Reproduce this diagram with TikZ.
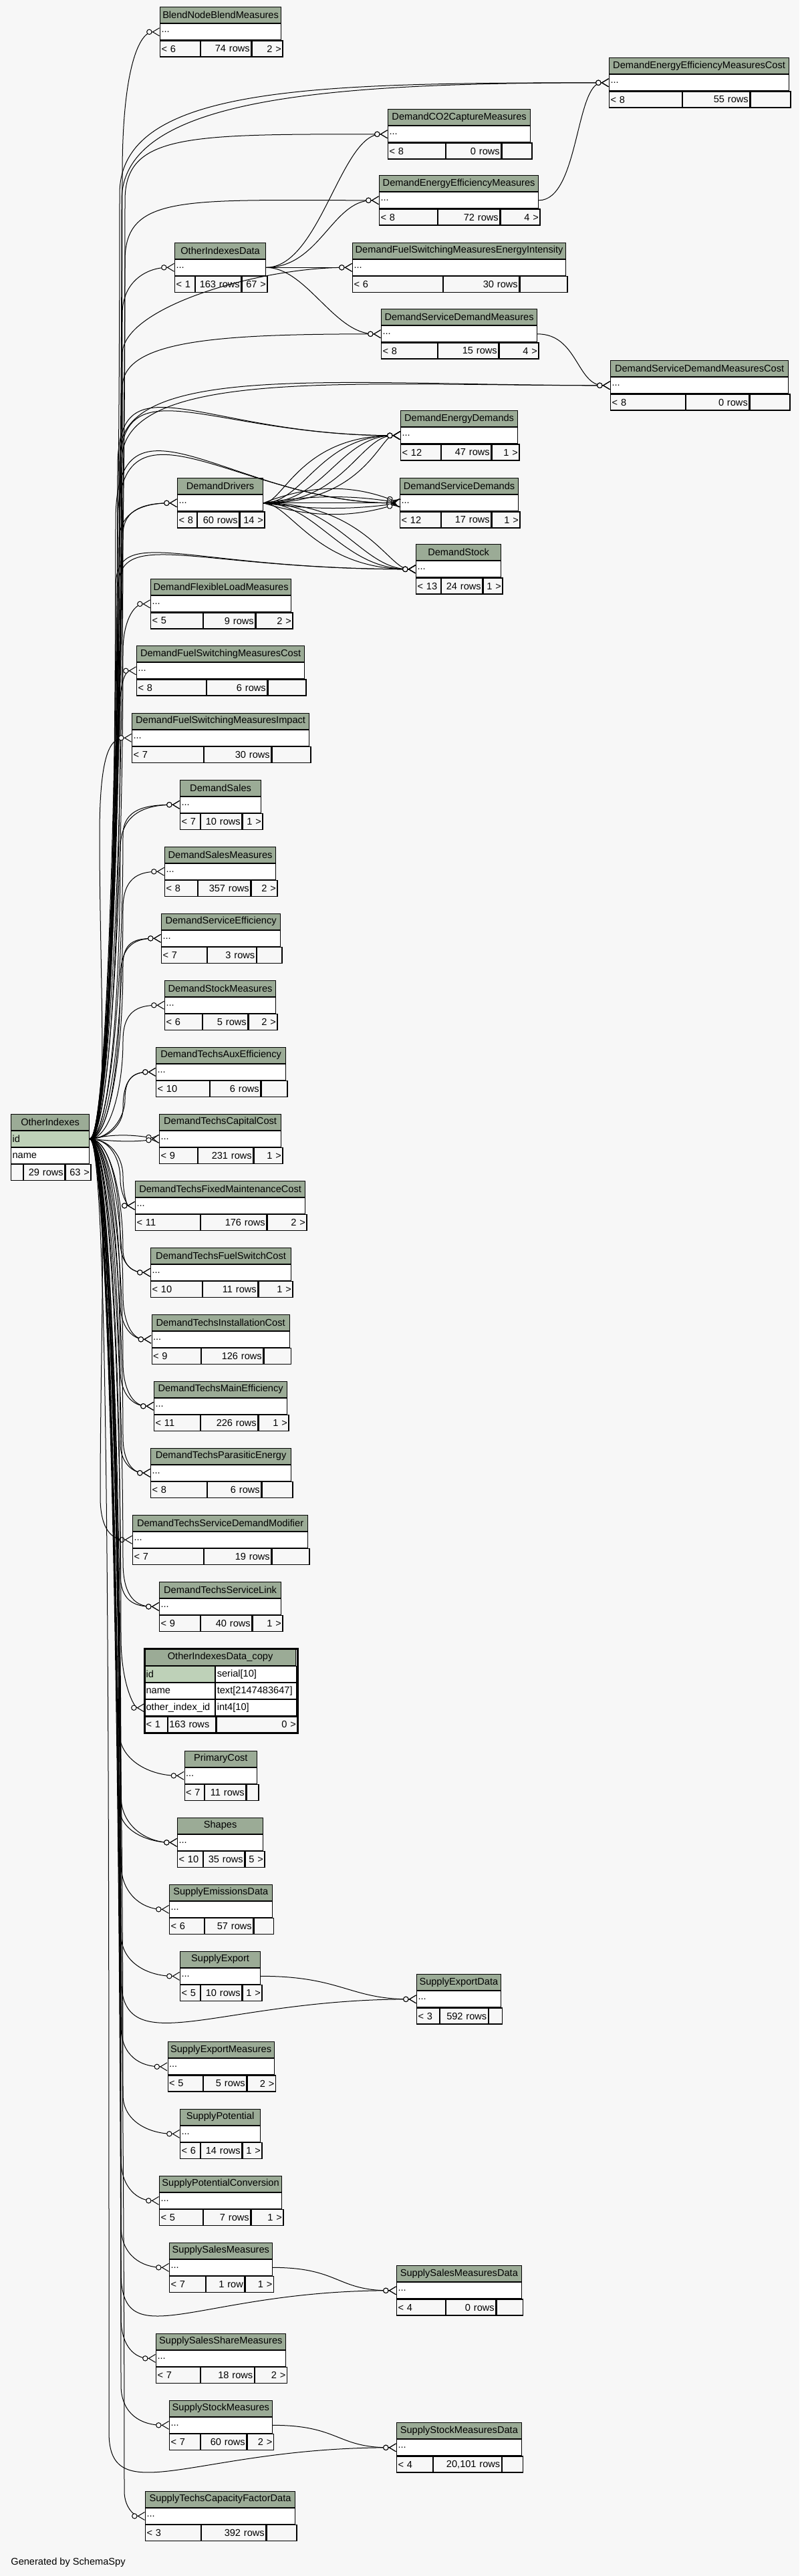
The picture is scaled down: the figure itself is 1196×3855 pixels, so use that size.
\documentclass[tikz,border=0pt]{standalone}
\usepackage{fontspec}
\setmainfont{Liberation Sans}
\usepackage{tikz}
\usetikzlibrary{arrows.meta}
\definecolor{headgreen}{HTML}{9BAB96}
\definecolor{keygreen}{HTML}{BED1B8}
\definecolor{pagebg}{HTML}{F7F7F7}
\tikzstyle{cell}=[draw, line width=.6pt, anchor=north west, inner xsep=1pt, inner ysep=0pt, minimum height=12pt, align=left, fill=pagebg]
\tikzstyle{thead}=[cell, fill=headgreen, align=center]
\tikzstyle{fk}=[line width=.5pt, -{Circle[fill=white,length=4.2pt] Straight Barb[reversed,length=5pt,width=6pt]}]
% table: name, x, y, width, divider 1, divider 2, left, middle, right (pixels)
\newcommand\tbl[9]{%
  \pgfmathsetmacro\tblw{(#4)*0.5-2}%
  \pgfmathsetmacro\tbla{(#5-#2)*0.5-2}%
  \pgfmathsetmacro\tblb{(#6-#5)*0.5-2}%
  \pgfmathsetmacro\tblc{(#2+#4-#6)*0.5-2}%
  \node[thead, text width=\tblw pt] (#1-h) at (#2,#3) {\mbox{#1}};
  \node[cell, fill=white, text width=\tblw pt] (#1) at (#1-h.south west) {...};
  \node[cell, text width=\tbla pt] (#1-l) at (#1.south west) {\mbox{#7}};
  \node[cell, text width=\tblb pt, align=right] (#1-m) at (#1-l.north east) {\mbox{#8}};
  \node[cell, text width=\tblc pt, align=right] (#1-r) at (#1-m.north east) {\mbox{#9}};
}
% edge from OtherIndexes.id: target, bundle x, leave y, approach dy, approach dx
\newcommand\oie[5]{%
  \pgfmathsetmacro\oid{(1702-#3)*0.5}%
  \draw[fk] (oi-id.east) .. controls +(30,0) and +(0,\oid) .. (#2,#3)
    .. controls +(0,#4) and +(-#5,0) .. (#1.west);
}
\begin{document}
\begin{tikzpicture}[x=.5pt, y=-.5pt, font=\fontsize{7.3pt}{8.5pt}\selectfont]
\fill[pagebg] (0,0) rectangle (1196,3855);
\useasboundingbox (0,0) rectangle (1196,3855);

\tbl{BlendNodeBlendMeasures}{239}{10}{181}{299}{374}{< 6}{74 rows}{2 >}
\tbl{DemandEnergyEfficiencyMeasuresCost}{911}{86}{269}{1020}{1120}{< 8}{55 rows}{}
\tbl{DemandCO2CaptureMeasures}{580}{163}{213}{666}{748}{< 8}{0 rows}{}
\tbl{DemandEnergyEfficiencyMeasures}{567}{262}{238}{654}{746}{< 8}{72 rows}{4 >}
\tbl{OtherIndexesData}{261}{362.5}{136}{291}{359}{< 1}{163 rows}{67 >}
\tbl{DemandFuelSwitchingMeasuresEnergyIntensity}{527}{362.5}{319}{662}{775}{< 6}{30 rows}{}
\tbl{DemandServiceDemandMeasures}{570}{462}{233}{654}{744}{< 8}{15 rows}{4 >}
\tbl{DemandServiceDemandMeasuresCost}{913}{539}{266}{1025}{1119}{< 8}{0 rows}{}
\tbl{DemandEnergyDemands}{599}{614}{175}{659}{733}{< 12}{47 rows}{1 >}
\tbl{DemandServiceDemands}{598}{715}{177}{659}{733}{< 12}{17 rows}{1 >}
\tbl{DemandDrivers}{265}{715}{128}{294}{356}{< 8}{60 rows}{14 >}
\tbl{DemandStock}{622}{814}{127}{659}{720}{< 13}{24 rows}{1 >}
\tbl{DemandFlexibleLoadMeasures}{225}{866}{210}{303}{380}{< 5}{9 rows}{2 >}
\tbl{DemandFuelSwitchingMeasuresCost}{204}{966}{251}{308}{398}{< 8}{6 rows}{}
\tbl{DemandFuelSwitchingMeasuresImpact}{197}{1066.5}{265}{304}{404}{< 7}{30 rows}{}
\tbl{DemandSales}{269}{1166.5}{121}{298.5}{360}{< 7}{10 rows}{1 >}
\tbl{DemandSalesMeasures}{246}{1266.5}{166}{295}{373}{< 8}{357 rows}{2 >}
\tbl{DemandServiceEfficiency}{241}{1366.5}{178}{309}{381.5}{< 7}{3 rows}{}
\tbl{DemandStockMeasures}{246}{1466.5}{166}{302}{369}{< 6}{5 rows}{2 >}
\tbl{DemandTechsAuxEfficiency}{233}{1566.5}{194}{313}{388}{< 10}{6 rows}{}
\tbl{DemandTechsCapitalCost}{238}{1666.5}{182}{295}{377}{< 9}{231 rows}{1 >}
\tbl{DemandTechsFixedMaintenanceCost}{202}{1766.5}{254}{298.5}{397}{< 11}{176 rows}{2 >}
\tbl{DemandTechsFuelSwitchCost}{225}{1866.5}{210}{302}{384}{< 10}{11 rows}{1 >}
\tbl{DemandTechsInstallationCost}{226.5}{1966.5}{206}{300}{392}{< 9}{126 rows}{}
\tbl{DemandTechsMainEfficiency}{230}{2066.5}{199}{298.5}{384}{< 11}{226 rows}{1 >}
\tbl{DemandTechsParasiticEnergy}{225}{2166.5}{210}{309}{389}{< 8}{6 rows}{}
\tbl{DemandTechsServiceDemandModifier}{198}{2266.5}{262}{304}{404}{< 7}{19 rows}{}
\tbl{DemandTechsServiceLink}{238}{2366.5}{182}{298.5}{375}{< 9}{40 rows}{1 >}
\tbl{PrimaryCost}{275.5}{2619.5}{108.5}{305}{366}{< 7}{11 rows}{}
\tbl{Shapes}{265}{2719.5}{128}{302.5}{364}{< 10}{35 rows}{5 >}
\tbl{SupplyEmissionsData}{253}{2819.5}{153.5}{305}{377}{< 6}{57 rows}{}
\tbl{SupplyExport}{269}{2919.5}{120}{298.5}{360}{< 5}{10 rows}{1 >}
\tbl{SupplyExportData}{623}{2954}{125.5}{657}{728.5}{< 3}{592 rows}{}
\tbl{SupplyExportMeasures}{250.5}{3055}{159}{302.5}{367}{< 5}{5 rows}{2 >}
\tbl{SupplyPotential}{269}{3155.5}{120}{298.5}{360}{< 6}{14 rows}{1 >}
\tbl{SupplyPotentialConversion}{238}{3255.5}{183}{302.5}{373}{< 5}{7 rows}{1 >}
\tbl{SupplySalesMeasures}{253}{3355.5}{153.5}{306.5}{364}{< 7}{1 row}{1 >}
\tbl{SupplySalesMeasuresData}{593}{3390}{186.5}{666}{740}{< 4}{0 rows}{}
\tbl{SupplySalesShareMeasures}{233}{3491.5}{193.5}{298.5}{378.5}{< 7}{18 rows}{2 >}
\tbl{SupplyStockMeasures}{253}{3591.5}{153.5}{298.5}{367}{< 7}{60 rows}{2 >}
\tbl{SupplyStockMeasuresData}{593}{3625}{186.5}{647}{748.5}{< 4}{20,101 rows}{}
\tbl{SupplyTechsCapacityFactorData}{217}{3727.5}{224}{300}{396}{< 3}{392 rows}{}

% OtherIndexes
\node[thead, text width=56.5pt] (oi-h) at (16,1666.5) {OtherIndexes};
\node[cell, fill=keygreen, text width=56.5pt] (oi-id) at (oi-h.south west) {id};
\node[cell, fill=white, text width=56.5pt] (oi-name) at (oi-id.south west) {name};
\node[cell, text width=7pt] (oi-l) at (oi-name.south west) {};
\node[cell, text width=28.5pt, align=right] (oi-m) at (oi-l.north east) {\mbox{29 rows}};
\node[cell, text width=17pt, align=right] (oi-r) at (oi-m.north east) {\mbox{63 >}};

% OtherIndexesData_copy
\node[thead, text width=111pt] (oidc-h) at (216,2467.5) {OtherIndexesData\_copy};
\node[cell, fill=keygreen, text width=50.5pt] (oidc-id) at (oidc-h.south west) {id};
\node[cell, fill=white, text width=58.5pt] (oidc-idt) at (oidc-id.north east) {serial[10]};
\node[cell, fill=white, text width=50.5pt] (oidc-name) at (oidc-id.south west) {name};
\node[cell, fill=white, text width=58.5pt] (oidc-namet) at (oidc-name.north east) {\mbox{text[2147483647]}};
\node[cell, fill=white, text width=50.5pt] (oidc-oiid) at (oidc-name.south west) {\mbox{other\_index\_id}};
\node[cell, fill=white, text width=58.5pt] (oidc-oiidt) at (oidc-oiid.north east) {int4[10]};
\node[cell, text width=14.75pt] (oidc-l) at (oidc-oiid.south west) {\mbox{< 1}};
\node[cell, text width=33.75pt] (oidc-m) at (oidc-l.north east) {\mbox{163 rows}};
\node[cell, text width=58.5pt, align=right] (oidc-r) at (oidc-m.north east) {\mbox{0 >}};
\draw[line width=1.5pt] (oidc-h.north west) rectangle (oidc-r.south east);

\node[anchor=west, inner sep=0pt] (credit) at (16,3835) {Generated by SchemaSpy};

% edges from OtherIndexes, upwards
\oie{BlendNodeBlendMeasures}{183}{260}{-160}{30}
\oie{DemandEnergyEfficiencyMeasuresCost}{179}{290}{-160}{450}
\oie{DemandEnergyEfficiencyMeasuresCost}{182}{300}{-150}{440}
\oie{DemandCO2CaptureMeasures}{187}{300}{-100}{300}
\oie{DemandEnergyEfficiencyMeasures}{187}{390}{-100}{290}
\oie{OtherIndexesData}{183}{470}{-50}{40}
\oie{DemandFuelSwitchingMeasuresEnergyIntensity}{183}{530}{-70}{140}
\oie{DemandServiceDemandMeasures}{183}{580}{-70}{250}
\oie{DemandServiceDemandMeasuresCost}{179}{680}{-140}{400}
\oie{DemandServiceDemandMeasuresCost}{182}{690}{-140}{390}
\oie{DemandEnergyDemands}{176}{700}{-170}{300}
\oie{DemandEnergyDemands}{179}{705}{-165}{290}
\oie{DemandServiceDemands}{173}{780}{-220}{250}
\oie{DemandServiceDemands}{176}{785}{-215}{240}
\oie{DemandStock}{173}{880}{-100}{350}
\oie{DemandStock}{176}{885}{-100}{340}
\oie{DemandDrivers}{178}{810}{-45}{50}
\oie{DemandDrivers}{184}{800}{-40}{45}
\oie{DemandFlexibleLoadMeasures}{184}{975}{-45}{25}
\oie{DemandFuelSwitchingMeasuresCost}{180}{1050}{-30}{15}
\oie{DemandFuelSwitchingMeasuresImpact}{149}{1250}{-130}{30}
\oie{DemandSales}{184}{1250}{-40}{50}
\oie{DemandSales}{180}{1270}{-50}{55}
\oie{DemandSalesMeasures}{184}{1360}{-45}{40}
\oie{DemandServiceEfficiency}{184}{1445}{-35}{40}
\oie{DemandServiceEfficiency}{180}{1465}{-45}{45}
\oie{DemandStockMeasures}{184}{1558}{-45}{40}
\oie{DemandTechsAuxEfficiency}{187}{1645}{-35}{30}
\oie{DemandTechsAuxEfficiency}{184}{1660}{-45}{35}
\draw[fk] (oi-id.east) .. controls +(40,-8) and +(-40,-6) .. (DemandTechsCapitalCost.west);
\draw[fk] (oi-id.east) .. controls +(40,4) and +(-40,5) .. (DemandTechsCapitalCost.west);
% edges from OtherIndexes, downwards
\oie{DemandTechsFixedMaintenanceCost}{184}{1760}{25}{12}
\oie{DemandTechsFixedMaintenanceCost}{180}{1765}{22}{10}
\oie{DemandTechsFuelSwitchCost}{184}{1870}{25}{25}
\oie{DemandTechsFuelSwitchCost}{180}{1858}{32}{28}
\oie{DemandTechsInstallationCost}{184}{1937}{40}{30}
\oie{DemandTechsInstallationCost}{180}{1951}{35}{28}
\oie{DemandTechsMainEfficiency}{184}{2038}{40}{32}
\oie{DemandTechsMainEfficiency}{180}{2050}{38}{30}
\oie{DemandTechsParasiticEnergy}{184}{2150}{35}{28}
\oie{DemandTechsParasiticEnergy}{180}{2160}{30}{25}
\oie{DemandTechsServiceDemandModifier}{150}{2240}{50}{30}
\oie{DemandTechsServiceLink}{184}{2337}{45}{40}
\oie{DemandTechsServiceLink}{180}{2355}{40}{38}
\oie{oidc-oiid}{181}{2450}{70}{15}
\oie{PrimaryCost}{178}{2590}{45}{50}
\oie{Shapes}{181}{2688}{45}{45}
\oie{Shapes}{178}{2702}{40}{40}
\oie{SupplyEmissionsData}{181}{2789}{45}{40}
\oie{SupplyExport}{181}{2894}{45}{45}
\oie{SupplyExportData}{181}{2960}{130}{300}
\oie{SupplyExportMeasures}{181}{3032}{45}{40}
\oie{SupplyPotential}{184}{3135}{40}{45}
\oie{SupplyPotentialConversion}{181}{3231}{45}{30}
\oie{SupplySalesMeasures}{181}{3331}{45}{40}
\oie{SupplySalesMeasuresData}{181}{3400}{130}{300}
\oie{SupplySalesShareMeasures}{181}{3468}{45}{30}
\oie{SupplyStockMeasures}{181}{3569}{45}{40}
\oie{SupplyStockMeasuresData}{163}{3640}{120}{300}
\oie{SupplyTechsCapacityFactorData}{186}{3728}{25}{15}

% other parents
\draw[fk] (OtherIndexesData.east) .. controls +(80,0) and +(-70,0) .. (DemandCO2CaptureMeasures.west);
\draw[fk] (OtherIndexesData.east) .. controls +(80,0) and +(-70,0) .. (DemandEnergyEfficiencyMeasures.west);
\draw[fk] (OtherIndexesData.east) -- (DemandFuelSwitchingMeasuresEnergyIntensity.west);
\draw[fk] (OtherIndexesData.east) .. controls +(60,0) and +(-70,0) .. (DemandServiceDemandMeasures.west);
\draw[fk] (DemandEnergyEfficiencyMeasures.east) .. controls +(60,0) and +(-50,0) .. (DemandEnergyEfficiencyMeasuresCost.west);
\draw[fk] (DemandServiceDemandMeasures.east) .. controls +(60,0) and +(-50,0) .. (DemandServiceDemandMeasuresCost.west);
\foreach \a/\b in {30/150,60/120,90/90,120/60,150/30}
  \draw[fk] (DemandDrivers.east) .. controls +(\a,0) and +(-\b,0) .. (DemandEnergyDemands.west);
\foreach \d in {-28,-12,0,10,22}
  \draw[fk] (DemandDrivers.east) .. controls +(70,\d) and +(-70,\d) .. (DemandServiceDemands.west);
\foreach \a/\b in {40/150,80/110,110/80,150/40}
  \draw[fk] (DemandDrivers.east) .. controls +(\a,0) and +(-\b,0) .. (DemandStock.west);
\draw[fk] (SupplyExport.east) .. controls +(120,0) and +(-100,0) .. (SupplyExportData.west);
\draw[fk] (SupplySalesMeasures.east) .. controls +(100,0) and +(-90,0) .. (SupplySalesMeasuresData.west);
\draw[fk] (SupplyStockMeasures.east) .. controls +(100,0) and +(-90,0) .. (SupplyStockMeasuresData.west);
\end{tikzpicture}
\end{document}
